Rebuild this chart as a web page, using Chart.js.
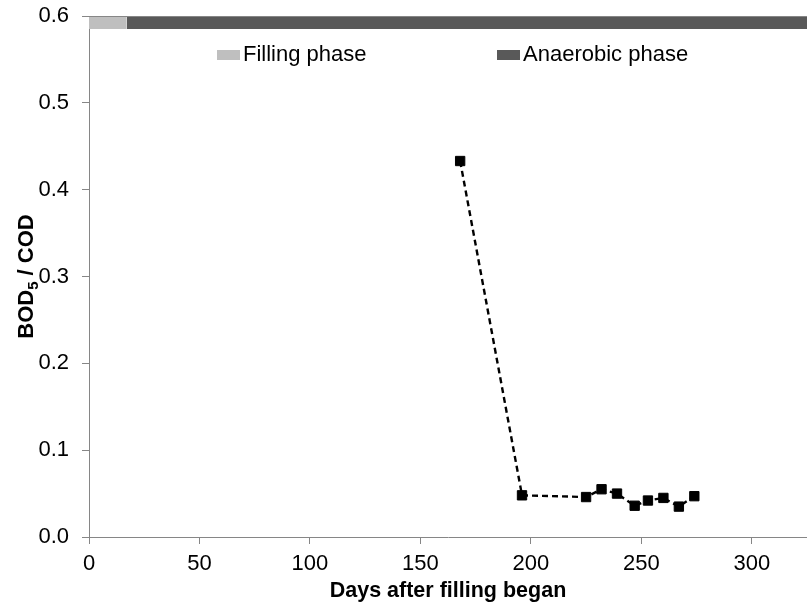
<!DOCTYPE html>
<html>
<head>
<meta charset="utf-8">
<script src="https://cdn.jsdelivr.net/npm/chart.js@4/dist/chart.umd.min.js"></script>
<style>
html,body{margin:0;padding:0;background:#fff;}
#wrap{width:807px;height:607px;position:relative;}
</style>
</head>
<body>
<div id="wrap"><canvas id="c" width="807" height="607"></canvas></div>
<script>
// ---- data ----
const days = [168, 196, 225, 232, 239, 247, 253, 260, 267, 274];
const ratio = [0.433, 0.048, 0.046, 0.055, 0.050, 0.036, 0.042, 0.045, 0.035, 0.047];
const phaseNames = ["Filling phase", "Anaerobic phase"];
const phaseStart = [0, 17];
const phaseEnd = [17, 325];
const phaseBandTop = 0.6;
const phaseBandBottom = 0.585;
const xTicks = [0, 50, 100, 150, 200, 250, 300];
const yTicks = [0.0, 0.1, 0.2, 0.3, 0.4, 0.5, 0.6];
const xTitle = "Days after filling began";
const yTitleMain = "BOD", yTitleSub = "5", yTitleRest = " / COD";

const FONT = "'Liberation Sans', Arial, sans-serif";
const phaseColors = ["#BFBFBF", "#595959"];
const axisColor = "#868686";

const phaseSets = phaseNames.map((n, i) => ({
  label: n,
  data: [{x: phaseStart[i], y: phaseBandTop}, {x: phaseEnd[i], y: phaseBandTop}],
  borderWidth: 0,
  pointRadius: 0,
  backgroundColor: phaseColors[i],
  borderColor: phaseColors[i],
  fill: {value: phaseBandBottom},
  order: 2
}));

const seriesSet = {
  label: "BOD5/COD",
  data: days.map((d, i) => ({x: d, y: ratio[i]})),
  borderColor: "#000",
  borderWidth: 2.4,
  borderDash: [6, 4],
  pointStyle: "rect",
  pointRadius: 6.6,
  pointHoverRadius: 6.6,
  pointBackgroundColor: "#000",
  pointBorderColor: "#000",
  pointBorderWidth: 1,
  fill: false,
  tension: 0,
  order: 1
};

const customLegend = {
  id: "customLegend",
  afterDatasetsDraw(chart) {
    const ctx = chart.ctx;
    const ca = chart.chartArea;
    ctx.save();
    // thin top border of the plot area
    ctx.strokeStyle = axisColor;
    ctx.lineWidth = 1;
    ctx.beginPath();
    ctx.moveTo(ca.left, ca.top + 0.5);
    ctx.lineTo(ca.right, ca.top + 0.5);
    ctx.stroke();
    const pos = [217, 497];
    ctx.font = "22px " + FONT;
    ctx.textBaseline = "middle";
    phaseNames.forEach((n, i) => {
      ctx.fillStyle = phaseColors[i];
      ctx.fillRect(pos[i], 50, 23, 10);
      ctx.fillStyle = "#000";
      ctx.fillText(n, pos[i] + 26, 55);
    });
    ctx.restore();
  }
};

const yTitlePlugin = {
  id: "yTitlePlugin",
  afterDraw(chart) {
    const ctx = chart.ctx;
    const ca = chart.chartArea;
    const cy = (ca.top + ca.bottom) / 2;
    ctx.save();
    ctx.translate(27, cy);
    ctx.rotate(-Math.PI / 2);
    ctx.fillStyle = "#000";
    ctx.textBaseline = "middle";
    const big = "bold 22px " + FONT, small = "bold 15px " + FONT;
    ctx.font = big; const w1 = ctx.measureText(yTitleMain).width;
    ctx.font = small; const w2 = ctx.measureText(yTitleSub).width;
    ctx.font = big; const w3 = ctx.measureText(yTitleRest).width;
    let x = -(w1 + w2 + w3) / 2;
    ctx.font = big; ctx.fillText(yTitleMain, x, 0); x += w1;
    ctx.font = small; ctx.fillText(yTitleSub, x, 7); x += w2;
    ctx.font = big; ctx.fillText(yTitleRest, x, 0);
    ctx.restore();
  }
};

new Chart(document.getElementById("c"), {
  type: "line",
  data: { datasets: [...phaseSets, seriesSet] },
  options: {
    responsive: false,
    animation: false,
    events: [],
    layout: { autoPadding: false, padding: { top: 16, right: 0, left: 0, bottom: 0 } },
    plugins: { legend: { display: false }, tooltip: { enabled: false } },
    scales: {
      x: {
        type: "linear",
        min: 0, max: 325,
        afterFit(s) { s.height = 70; s.paddingLeft = 0; s.paddingRight = 0; },
        afterBuildTicks(s) { s.ticks = xTicks.map(v => ({value: v})); },
        ticks: { font: { family: FONT, size: 22 }, color: "#000", padding: 7, maxRotation: 0 },
        grid: { drawOnChartArea: false, tickLength: 7, color: axisColor, lineWidth: 1 },
        border: { color: axisColor, width: 1 },
        title: { display: true, text: xTitle, font: { family: FONT, size: 21.5, weight: "bold" }, color: "#000", padding: { top: 0, bottom: 3 } }
      },
      y: {
        type: "linear",
        min: 0, max: 0.6,
        afterFit(s) { s.width = 89; s.paddingTop = 0; s.paddingBottom = 0; },
        afterBuildTicks(s) { s.ticks = yTicks.map(v => ({value: v})); },
        ticks: { font: { family: FONT, size: 22 }, color: "#000", padding: 13, callback: v => Number(v).toFixed(1) },
        grid: { drawOnChartArea: false, tickLength: 7, color: axisColor, lineWidth: 1 },
        border: { color: axisColor, width: 1 }
      }
    }
  },
  plugins: [customLegend, yTitlePlugin]
});
</script>
</body>
</html>
